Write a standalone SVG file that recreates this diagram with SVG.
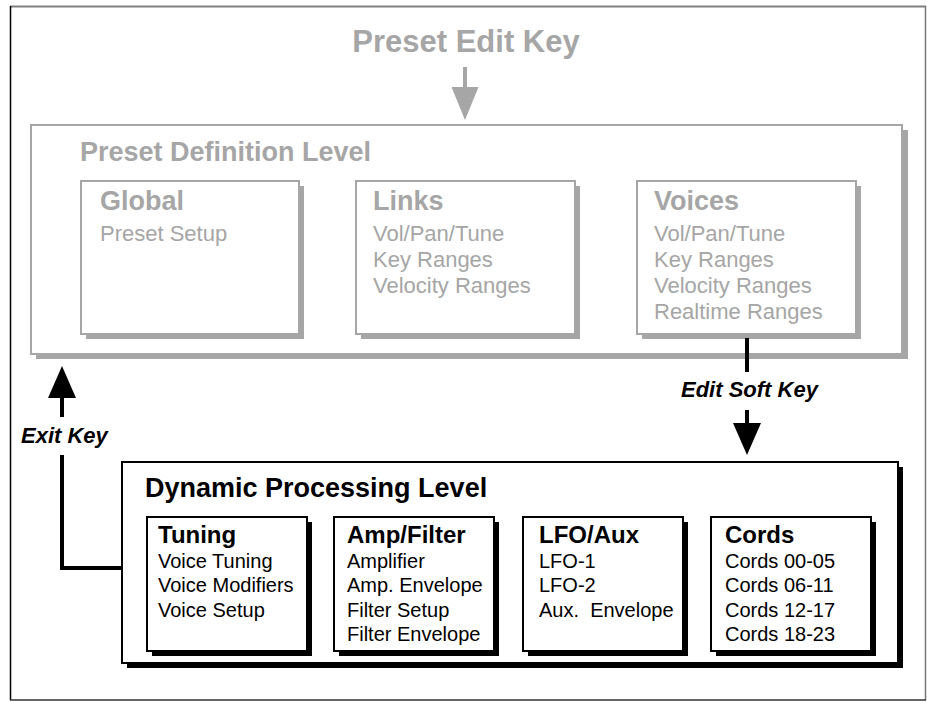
<svg xmlns="http://www.w3.org/2000/svg" width="927" height="702" viewBox="0 0 927 702">
<defs>
<style>
text{font-family:"Liberation Sans",Arial,sans-serif}
.g{fill:#a6a6a6}
.k{fill:#000}
.b{font-weight:bold}
.gbox{fill:#fff;stroke:#a6a6a6;stroke-width:2}
.gsh{fill:#a6a6a6}
.kbox{fill:#fff;stroke:#000;stroke-width:2}
.ksh{fill:#000}
.h1{font-size:27px;font-weight:bold}
.gh{font-size:27px;font-weight:bold}
.gi{font-size:22px}
.kh{font-size:24px;font-weight:bold}
.ki{font-size:20px}
.lbl{font-size:22px;font-weight:bold;font-style:italic}
.kl{stroke:#000;stroke-width:4;fill:none}
.gl{stroke:#a6a6a6;stroke-width:4;fill:none}
</style>
<marker id="ak" viewBox="0 0 32 28" refX="0" refY="14" markerWidth="32" markerHeight="28" markerUnits="userSpaceOnUse" orient="auto">
<path d="M0,0 L32,14 L0,28 z" fill="#000"/>
</marker>
<marker id="ag" viewBox="0 0 33 27" refX="0" refY="13.5" markerWidth="33" markerHeight="27" markerUnits="userSpaceOnUse" orient="auto">
<path d="M0,0 L33,13.5 L0,27 z" fill="#a6a6a6"/>
</marker>
</defs>
<rect width="927" height="702" fill="#fff"/>
<g id="frame">
<line x1="10" y1="6.5" x2="926" y2="6.5" stroke="#808080" stroke-width="2"/>
<line x1="10.5" y1="6" x2="10.5" y2="700" stroke="#000" stroke-width="1.5"/>
<line x1="925.5" y1="6" x2="925.5" y2="700" stroke="#777" stroke-width="1.5"/>
<line x1="10" y1="700" x2="926" y2="700" stroke="#333" stroke-width="1.5"/>
</g>
<g id="preset-edit-key">
<text x="466" y="52" text-anchor="middle" class="g b" font-size="31">Preset Edit Key</text>
</g>
<g id="preset-definition-level">
<rect x="36" y="130" width="872" height="229" class="gsh"/>
<rect x="31" y="125" width="871" height="229" class="gbox"/>
<text x="80" y="161" class="g h1">Preset Definition Level</text>
</g>
<g id="global">
<rect x="86" y="186" width="218" height="153" class="gsh"/>
<rect x="81" y="181" width="218" height="153" class="gbox"/>
<text x="100" y="210" class="g gh">Global</text>
<text x="100" y="241" class="g gi">Preset Setup</text>
</g>
<g id="links">
<rect x="361" y="186" width="219" height="153" class="gsh"/>
<rect x="356" y="181" width="219" height="153" class="gbox"/>
<text x="373" y="210" class="g gh">Links</text>
<text x="373" y="241" class="g gi">Vol/Pan/Tune</text>
<text x="373" y="267" class="g gi">Key Ranges</text>
<text x="373" y="293" class="g gi">Velocity Ranges</text>
</g>
<g id="voices">
<rect x="642" y="186" width="219" height="153" class="gsh"/>
<rect x="637" y="181" width="219" height="153" class="gbox"/>
<text x="654" y="210" class="g gh">Voices</text>
<text x="654" y="241" class="g gi">Vol/Pan/Tune</text>
<text x="654" y="267" class="g gi">Key Ranges</text>
<text x="654" y="293" class="g gi">Velocity Ranges</text>
<text x="654" y="319" class="g gi">Realtime Ranges</text>
</g>
<g id="dynamic-processing-level">
<rect x="127" y="467" width="776" height="201" class="ksh"/>
<rect x="122" y="462" width="776" height="201" class="kbox"/>
<text x="145" y="497" class="k h1">Dynamic Processing Level</text>
</g>
<g id="tuning">
<rect x="152" y="522" width="160" height="134" class="ksh"/>
<rect x="147" y="517" width="160" height="134" class="kbox"/>
<text x="158" y="543" class="k kh">Tuning</text>
<text x="158" y="568" class="k ki">Voice Tuning</text>
<text x="158" y="592" class="k ki">Voice Modifiers</text>
<text x="158" y="617" class="k ki">Voice Setup</text>
</g>
<g id="amp-filter">
<rect x="339" y="522" width="160" height="134" class="ksh"/>
<rect x="334" y="517" width="160" height="134" class="kbox"/>
<text x="347" y="543" class="k kh">Amp/Filter</text>
<text x="347" y="568" class="k ki">Amplifier</text>
<text x="347" y="592" class="k ki">Amp. Envelope</text>
<text x="347" y="617" class="k ki">Filter Setup</text>
<text x="347" y="641" class="k ki">Filter Envelope</text>
</g>
<g id="lfo-aux">
<rect x="528" y="522" width="160" height="134" class="ksh"/>
<rect x="523" y="517" width="160" height="134" class="kbox"/>
<text x="539" y="543" class="k kh">LFO/Aux</text>
<text x="539" y="568" class="k ki">LFO-1</text>
<text x="539" y="592" class="k ki">LFO-2</text>
<text x="539" y="617" class="k ki" xml:space="preserve">Aux.  Envelope</text>
</g>
<g id="cords">
<rect x="716" y="522" width="160" height="134" class="ksh"/>
<rect x="711" y="517" width="160" height="134" class="kbox"/>
<text x="725" y="543" class="k kh">Cords</text>
<text x="725" y="568" class="k ki">Cords 00-05</text>
<text x="725" y="592" class="k ki">Cords 06-11</text>
<text x="725" y="617" class="k ki">Cords 12-17</text>
<text x="725" y="641" class="k ki">Cords 18-23</text>
</g>
<g id="connectors">
<line x1="465" y1="67" x2="465" y2="87" class="gl" marker-end="url(#ag)"/>
<line x1="747" y1="338" x2="747" y2="372" class="kl"/>
<line x1="747" y1="410" x2="747" y2="423" class="kl" marker-end="url(#ak)"/>
<text x="681" y="397" class="k lbl">Edit Soft Key</text>
<polyline points="122,568 62,568 62,455" class="kl"/>
<line x1="62" y1="417" x2="62" y2="398" class="kl" marker-end="url(#ak)"/>
<text x="21" y="443" class="k lbl">Exit Key</text>
</g>
</svg>
